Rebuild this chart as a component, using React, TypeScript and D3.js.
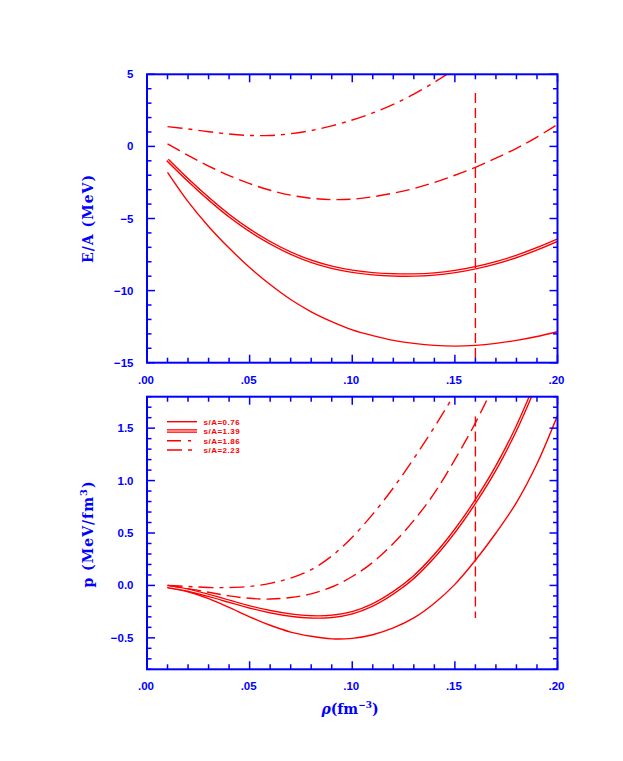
import React from "react";
import * as d3 from "d3";

// density grid (fm^-3)
const rho = [0.01, 0.02, 0.03, 0.04, 0.05, 0.06, 0.07, 0.08, 0.09, 0.10, 0.11, 0.12, 0.13, 0.14, 0.15, 0.16, 0.17, 0.18, 0.19, 0.20];

// Energy per nucleon E/A (MeV)
const ea076 = [-1.80, -3.83, -5.55, -7.05, -8.40, -9.58, -10.62, -11.47, -12.15, -12.72, -13.12, -13.45, -13.66, -13.80, -13.85, -13.80, -13.66, -13.45, -13.18, -12.85];
const ea139 = [-0.94, -2.33, -3.62, -4.80, -5.82, -6.68, -7.40, -7.97, -8.38, -8.66, -8.83, -8.91, -8.92, -8.85, -8.68, -8.42, -8.07, -7.63, -7.10, -6.50];
const ea186 = [0.17, -0.62, -1.36, -2.02, -2.58, -3.04, -3.38, -3.60, -3.69, -3.66, -3.49, -3.24, -2.92, -2.50, -2.00, -1.45, -0.82, -0.13, 0.65, 1.53];
const ea223 = [1.37, 1.21, 1.02, 0.86, 0.76, 0.76, 0.88, 1.10, 1.42, 1.83, 2.32, 2.92, 3.62, 4.45, 5.35];

// Pressure p (MeV/fm^3)
const p076 = [-0.02, -0.06, -0.125, -0.21, -0.30, -0.38, -0.445, -0.485, -0.51, -0.505, -0.47, -0.405, -0.31, -0.17, 0.01, 0.24, 0.50, 0.79, 1.16, 1.62];
const p139 = [-0.01, -0.045, -0.095, -0.15, -0.205, -0.25, -0.283, -0.30, -0.295, -0.26, -0.185, -0.07, 0.08, 0.28, 0.52, 0.80, 1.12, 1.50, 1.95];
const p186 = [0.0, -0.03, -0.065, -0.10, -0.123, -0.13, -0.115, -0.08, -0.015, 0.085, 0.22, 0.40, 0.62, 0.88, 1.20, 1.55, 1.95];
const p223 = [0.0, -0.01, -0.02, -0.02, -0.01, 0.02, 0.07, 0.15, 0.28, 0.46, 0.68, 0.93, 1.21, 1.51, 1.83];

const legendLabels = ["s/A=0.76", "s/A=1.39", "s/A=1.86", "s/A=2.23"];

// saturation density marker
const rhoMarker = 0.16;
const markerTop = [3.7, -15];
const markerBot = [1.61, -0.31];

const xTicks = d3.range(0, 21).map((i) => i / 100);
const yTopTicks = d3.range(-15, 6);
const yBotTicks = d3.range(-8, 19).map((i) => i / 10);

const BLUE = "#0000ff";
const RED = "#ff0000";
const DASH = "14,6";
const DASHDOT = "15,6,4,6";

export default function App() {
  const xL = 147, xR = 557.5;
  const x = d3.scaleLinear().domain([0, 0.2]).range([xL, xR]);
  const yT = d3.scaleLinear().domain([-15, 5]).range([362.7, 74.3]);
  const yB = d3.scaleLinear().domain([-0.8, 1.8]).range([669.3, 396.7]);

  const mkLine = (y: d3.ScaleLinear<number, number>) =>
    d3.line<number>().x((_, i) => x(rho[i])).y((d) => y(d)).curve(d3.curveCatmullRom.alpha(0.5));
  const lT = mkLine(yT);
  const lB = mkLine(yB);

  const fmtX = (v: number) => d3.format(".2f")(v).replace(/^0/, "");
  const fmtYT = d3.format("d");
  const fmtYB = d3.format(".1f");

  const tickFont = { fontFamily: "Liberation Sans, Arial, sans-serif", fontWeight: 700, fontSize: 11.5, fill: BLUE } as const;
  const titleFont = { fontFamily: "DejaVu Serif, Liberation Serif, serif", fontWeight: 700, fontSize: 14, fill: BLUE } as const;

  const panel = (
    y: d3.ScaleLinear<number, number>,
    yTicks: number[],
    isMajorY: (v: number) => boolean,
    fmtY: (v: number) => string,
    key: string
  ) => {
    const [yb, yt] = y.range();
    const els: React.ReactNode[] = [];
    xTicks.forEach((v, i) => {
      const major = Math.round(v * 100) % 5 === 0;
      const len = major ? 8 : 5;
      const px = x(v);
      els.push(<line key={`${key}xb${i}`} x1={px} x2={px} y1={yb} y2={yb - len} stroke={BLUE} strokeWidth={1.5} />);
      els.push(<line key={`${key}xt${i}`} x1={px} x2={px} y1={yt} y2={yt + len} stroke={BLUE} strokeWidth={1.5} />);
      if (major)
        els.push(
          <text key={`${key}xl${i}`} x={px - 1} y={yb + 21} textAnchor="middle" {...tickFont}>
            {fmtX(v)}
          </text>
        );
    });
    yTicks.forEach((v, i) => {
      const major = isMajorY(v);
      const len = major ? 8 : 4.5;
      const py = y(v);
      els.push(<line key={`${key}yl${i}`} x1={xL} x2={xL + len} y1={py} y2={py} stroke={BLUE} strokeWidth={1.5} />);
      els.push(<line key={`${key}yr${i}`} x1={xR} x2={xR - len} y1={py} y2={py} stroke={BLUE} strokeWidth={1.5} />);
      if (major)
        els.push(
          <text key={`${key}ylab${i}`} x={133.5} y={py + 4} textAnchor="end" {...tickFont}>
            {fmtY(v)}
          </text>
        );
    });
    els.push(
      <rect key={`${key}frame`} x={xL} y={yt} width={xR - xL} height={yb - yt} fill="none" stroke={BLUE} strokeWidth={2} />
    );
    return els;
  };

  const curve = (d: string | null, style: string, key: string) => {
    if (style === "double")
      return (
        <g key={key}>
          <path d={d || ""} fill="none" stroke={RED} strokeWidth={3.6} />
          <path d={d || ""} fill="none" stroke="#ffffff" strokeWidth={1.0} />
        </g>
      );
    return (
      <path
        key={key}
        d={d || ""}
        fill="none"
        stroke={RED}
        strokeWidth={1.4}
        strokeDasharray={style === "dash" ? DASH : style === "dashdot" ? DASHDOT : undefined}
      />
    );
  };

  const legendY = [421.7, 431, 440.7, 450];
  const legendStyles = ["solid", "double", "dash", "dashdot"];
  const legendDash = [undefined, undefined, "14,7,3,40", "15,6,4,40"];

  return (
    <svg width={623} height={761} style={{ position: "absolute", left: 0, top: 0, background: "#fff" }}>
      <defs>
        <clipPath id="clipT">
          <rect x={xL} y={74.3} width={xR - xL} height={362.7 - 74.3} />
        </clipPath>
        <clipPath id="clipB">
          <rect x={xL} y={396.7} width={xR - xL} height={669.3 - 396.7} />
        </clipPath>
      </defs>

      {/* top panel curves */}
      <g clipPath="url(#clipT)">
        {curve(lT(ea076), "solid", "t1")}
        {curve(lT(ea139), "double", "t2")}
        {curve(lT(ea186), "dash", "t3")}
        {curve(lT(ea223), "dashdot", "t4")}
        <line x1={x(rhoMarker)} x2={x(rhoMarker)} y1={yT(markerTop[0])} y2={yT(markerTop[1])} stroke={RED} strokeWidth={1.4} strokeDasharray="10,5" />
      </g>
      {/* bottom panel curves */}
      <g clipPath="url(#clipB)">
        {curve(lB(p076), "solid", "b1")}
        {curve(lB(p139), "double", "b2")}
        {curve(lB(p186), "dash", "b3")}
        {curve(lB(p223), "dashdot", "b4")}
        <line x1={x(rhoMarker)} x2={x(rhoMarker)} y1={yB(markerBot[0])} y2={yB(markerBot[1])} stroke={RED} strokeWidth={1.4} strokeDasharray="10,5" />
      </g>

      {panel(yT, yTopTicks, (v) => v % 5 === 0, (v) => fmtYT(v), "T")}
      {panel(yB, yBotTicks, (v) => Math.round(v * 10) % 5 === 0, (v) => fmtYB(v), "B")}

      {/* legend */}
      {legendLabels.map((lab, i) => (
        <g key={`lg${i}`}>
          {legendStyles[i] === "double" ? (
            <>
              <line x1={167} x2={197} y1={legendY[i]} y2={legendY[i]} stroke={RED} strokeWidth={3.6} />
              <line x1={167} x2={197} y1={legendY[i]} y2={legendY[i]} stroke="#fff" strokeWidth={1.0} />
            </>
          ) : (
            <line x1={167} x2={197} y1={legendY[i]} y2={legendY[i]} stroke={RED} strokeWidth={1.4} strokeDasharray={legendDash[i]} />
          )}
          <text x={203.5} y={legendY[i] + 3} fontFamily="Liberation Sans, Arial, sans-serif" fontWeight={700} fontSize={8} letterSpacing={0.5} fill={RED}>
            {lab}
          </text>
        </g>
      ))}

      {/* axis titles */}
      <text transform="translate(93,218.5) rotate(-90)" textAnchor="middle" letterSpacing={1} {...titleFont}>
        E/A (MeV)
      </text>
      <text transform="translate(93,534) rotate(-90)" textAnchor="middle" letterSpacing={1} {...titleFont}>
        p (MeV/fm<tspan dy={-6} fontSize={10}>3</tspan>
        <tspan dy={6}>)</tspan>
      </text>
      <text x={350} y={714} textAnchor="middle" {...titleFont} fontSize={14}>
        <tspan fontStyle="italic">ρ</tspan>(fm<tspan dy={-6} fontSize={9}>−3</tspan>
        <tspan dy={6}>)</tspan>
      </text>
    </svg>
  );
}
